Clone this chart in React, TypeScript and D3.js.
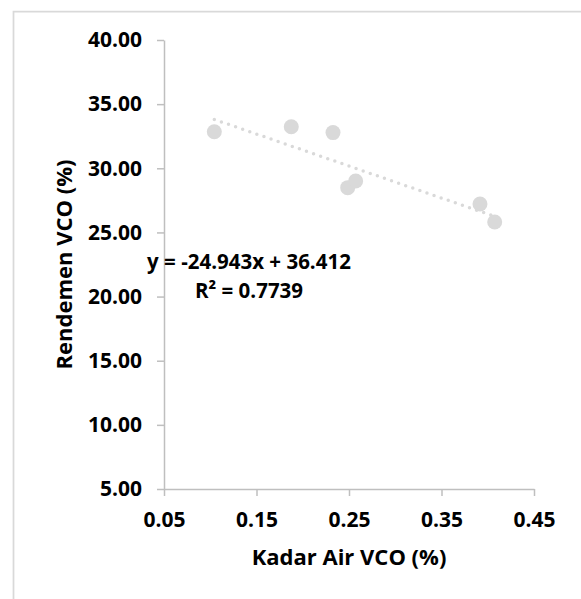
import { useEffect, useRef } from 'react';
import * as d3 from 'd3';

// kadar air (x) dan rendemen (y) VCO
const kadarAir = [0.1044, 0.1876, 0.2327, 0.2486, 0.2572, 0.3916, 0.4075];
const rendemen = [32.85, 33.24, 32.78, 28.49, 29.01, 27.22, 25.81];

const xTicks = [0.05, 0.15, 0.25, 0.35, 0.45];
const yTicks = [5, 10, 15, 20, 25, 30, 35, 40];

// persamaan garis tren dari grafik
const trendSlope = -24.943;
const trendIntercept = 36.412;
const eqLines = ['y = -24.943x + 36.412', 'R² = 0.7739'];

const xTitle = 'Kadar Air VCO (%)';
const yTitle = 'Rendemen VCO (%)';

export default function App() {
  const svgRef = useRef<SVGSVGElement>(null);

  useEffect(() => {
    const width = 581;
    const height = 599;
    const font = "'Open Sans', sans-serif";
    const axisColor = '#bfbfbf';
    const markColor = '#d9d9d9';

    const svg = d3.select(svgRef.current);
    svg.selectAll('*').remove();
    svg.attr('width', width).attr('height', height);

    // bingkai grafik (hanya sisi kiri dan atas yang terlihat)
    svg.append('path')
      .attr('d', `M13.5,${height}V11.5H${width}`)
      .attr('fill', 'none')
      .attr('stroke', markColor)
      .attr('stroke-width', 1.75);

    const x = d3.scaleLinear().domain([0.05, 0.45]).range([164, 534]);
    const y = d3.scaleLinear().domain([5, 40]).range([489, 40]);

    // sumbu y
    const gy = svg.append('g')
      .attr('transform', `translate(${x.range()[0]},0)`)
      .call(d3.axisLeft(y).tickValues(yTicks).tickSize(7).tickSizeOuter(0)
        .tickPadding(15).tickFormat(d3.format('.2f')));

    // sumbu x
    const gx = svg.append('g')
      .attr('transform', `translate(0,${y.range()[0]})`)
      .call(d3.axisBottom(x).tickValues(xTicks).tickSize(7).tickSizeOuter(0)
        .tickPadding(16).tickFormat(d3.format('.2f')));

    [gx, gy].forEach(g => {
      g.selectAll('path, line').attr('stroke', axisColor).attr('stroke-width', 1.5);
      g.selectAll('text')
        .attr('fill', '#000')
        .style('font-family', font)
        .style('font-weight', 700)
        .style('font-size', '21px');
    });

    // titik data
    svg.append('g')
      .selectAll('circle')
      .data(kadarAir)
      .enter()
      .append('circle')
      .attr('cx', d => x(d))
      .attr('cy', (d, i) => y(rendemen[i]))
      .attr('r', 7.5)
      .attr('fill', markColor);

    // garis tren (titik-titik)
    const xExt = d3.extent(kadarAir) as [number, number];
    const line = d3.line<number>()
      .x(d => x(d))
      .y(d => y(trendSlope * d + trendIntercept));
    svg.append('path')
      .attr('d', line(xExt))
      .attr('fill', 'none')
      .attr('stroke', markColor)
      .attr('stroke-width', 3.5)
      .attr('stroke-linecap', 'round')
      .attr('stroke-dasharray', '0 7.5');

    // label persamaan
    svg.append('g')
      .selectAll('text')
      .data(eqLines)
      .enter()
      .append('text')
      .attr('x', 249)
      .attr('y', (d, i) => 269 + i * 29)
      .attr('text-anchor', 'middle')
      .style('font-family', font)
      .style('font-weight', 700)
      .style('font-size', '20.5px')
      .text(d => d);

    // judul sumbu
    svg.append('text')
      .attr('x', (x.range()[0] + x.range()[1]) / 2)
      .attr('y', 565)
      .attr('text-anchor', 'middle')
      .style('font-family', font)
      .style('font-weight', 700)
      .style('font-size', '22px')
      .text(xTitle);

    svg.append('text')
      .attr('transform', `translate(72,${(y.range()[0] + y.range()[1]) / 2}) rotate(-90)`)
      .attr('text-anchor', 'middle')
      .style('font-family', font)
      .style('font-weight', 700)
      .style('font-size', '22px')
      .text(yTitle);
  }, []);

  return (
    <div style={{ position: 'absolute', left: 0, top: 0 }}>
      <svg ref={svgRef}></svg>
    </div>
  );
}
